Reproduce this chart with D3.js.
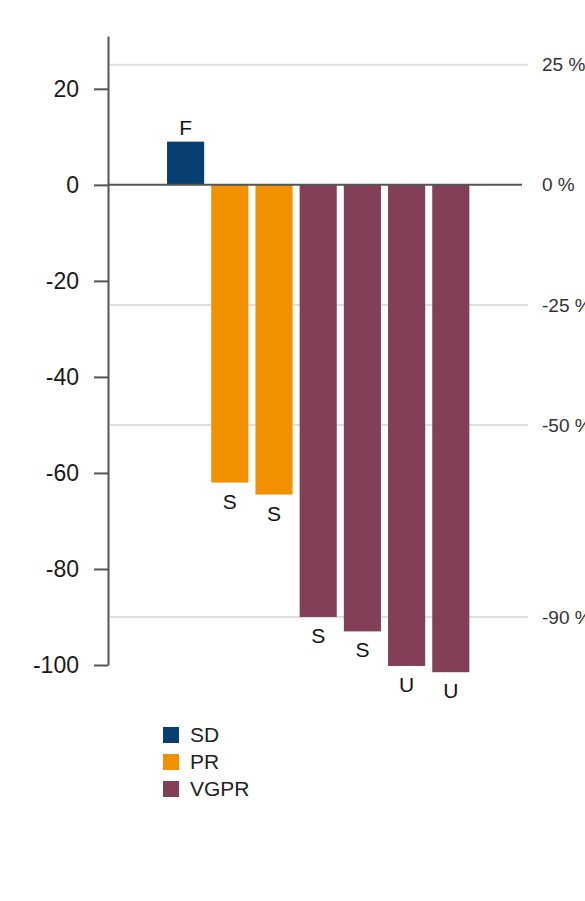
<!DOCTYPE html>
<meta charset="utf-8">
<head>
    <script type="text/javascript" src="https://cdn.jsdelivr.net/npm/d3@7"></script>
    <style>
        body { margin: 0; background: #fff; }
        text { font-family: "Liberation Sans", Arial, sans-serif; }
    </style>
    <title>Waterfall response</title>
</head>
<body>
<script>
    // chart data
    var patients = ["P1", "P2", "P3", "P4", "P5", "P6", "P7"];
    var changes = [9, -62, -64.5, -90, -93, -100.2, -101.5];
    var responses = ["SD", "PR", "PR", "VGPR", "VGPR", "VGPR", "VGPR"];
    var barLabels = ["F", "S", "S", "S", "S", "U", "U"];
    var leftTicks = [20, 0, -20, -40, -60, -80, -100];
    var refLines = [25, 0, -25, -50, -90];
    var refLabels = ["25 %", "0 %", "-25 %", "-50 %", "-90 %"];
    var categories = ["SD", "PR", "VGPR"];
    var catColors = ["#073f70", "#f29100", "#843f58"];

    var width = 585, height = 901;

    var svg = d3.select("body").append("svg")
        .attr("width", width)
        .attr("height", height);

    var y = d3.scaleLinear().domain([-100, 31]).range([665, 36]);
    var x = d3.scaleBand().domain(patients)
        .range([163.5, 472.9])
        .paddingInner(0.16)
        .paddingOuter(0.08);
    var color = d3.scaleOrdinal().domain(categories).range(catColors);

    // reference lines (gray) + right labels
    var ref = svg.append("g").attr("class", "ref");
    ref.selectAll("line")
        .data(refLines.filter(d => d !== 0))
        .enter().append("line")
        .attr("x1", 110).attr("x2", 528)
        .attr("y1", d => y(d)).attr("y2", d => y(d))
        .attr("stroke", "#dedede")
        .attr("stroke-width", 2);
    ref.selectAll("text")
        .data(refLines)
        .enter().append("text")
        .attr("x", 542)
        .attr("y", d => y(d))
        .attr("dy", "0.35em")
        .attr("font-size", 19)
        .attr("fill", "#333")
        .text((d, i) => refLabels[i]);

    // bars
    svg.append("g").selectAll("rect")
        .data(changes)
        .enter().append("rect")
        .attr("x", (d, i) => x(patients[i]))
        .attr("width", x.bandwidth())
        .attr("y", d => y(Math.max(0, d)))
        .attr("height", d => Math.abs(y(d) - y(0)))
        .attr("fill", (d, i) => color(responses[i]));

    // bar labels
    svg.append("g").selectAll("text")
        .data(changes)
        .enter().append("text")
        .attr("x", (d, i) => x(patients[i]) + x.bandwidth() / 2)
        .attr("y", d => d >= 0 ? y(d) - 7 : y(d) + 26)
        .attr("text-anchor", "middle")
        .attr("font-size", 21)
        .attr("fill", "#111")
        .text((d, i) => barLabels[i]);

    // zero line
    svg.append("line")
        .attr("x1", 108).attr("x2", 522)
        .attr("y1", y(0)).attr("y2", y(0))
        .attr("stroke", "#555")
        .attr("stroke-width", 2);

    // left axis
    var yAxis = d3.axisLeft(y)
        .tickValues(leftTicks)
        .tickFormat(d => String(d))
        .tickSize(14)
        .tickSizeOuter(0)
        .tickPadding(15);
    var ax = svg.append("g")
        .attr("transform", "translate(108,0)")
        .call(yAxis);
    ax.select(".domain").attr("stroke", "#555").attr("stroke-width", 2);
    ax.selectAll(".tick line").attr("stroke", "#555").attr("stroke-width", 2);
    ax.selectAll(".tick text")
        .attr("font-size", 23)
        .attr("fill", "#1a1a1a")
        .style("font-family", "'Liberation Sans', Arial, sans-serif");

    // legend
    var legend = svg.append("g").attr("transform", "translate(163,727)");
    var item = legend.selectAll("g")
        .data(categories)
        .enter().append("g")
        .attr("transform", (d, i) => "translate(0," + i * 27 + ")");
    item.append("rect")
        .attr("width", 16).attr("height", 16)
        .attr("fill", d => color(d));
    item.append("text")
        .attr("x", 27).attr("y", 8)
        .attr("dy", "0.35em")
        .attr("font-size", 21)
        .attr("fill", "#222")
        .text(d => d);
</script>
</body>
